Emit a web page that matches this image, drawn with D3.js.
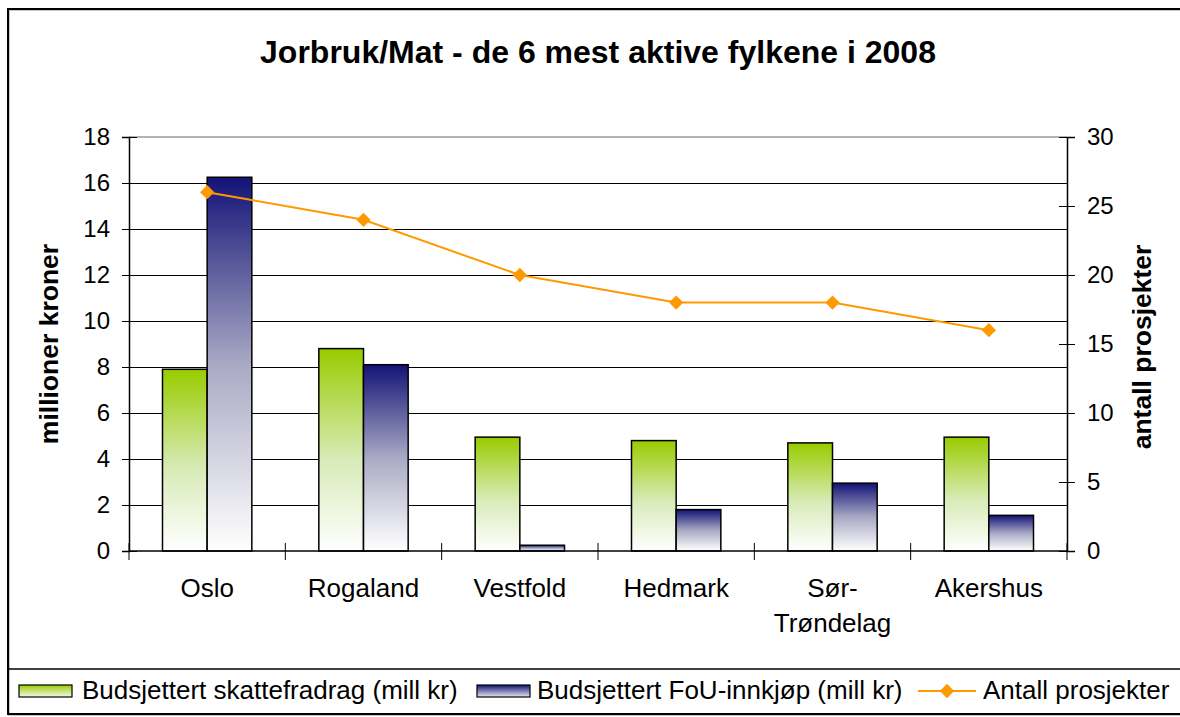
<!doctype html>
<html>
<head>
<meta charset="utf-8">
<title>Jorbruk/Mat</title>
<script src="https://cdn.jsdelivr.net/npm/d3@7"></script>
<style>
  body { margin: 0; background: #fff; }
  text { font-family: "Liberation Sans", Arial, sans-serif; fill: #000; }
</style>
</head>
<body>
<script>
// data
var fylker = ["Oslo", "Rogaland", "Vestfold", "Hedmark", "Sør-Trøndelag", "Akershus"];
var skattefradrag = [7.9, 8.8, 4.95, 4.8, 4.7, 4.95];
var fouInnkjop = [16.25, 8.1, 0.25, 1.8, 2.95, 1.55];
var antallProsjekter = [26, 24, 20, 18, 18, 16];
var leftTicks = [0, 2, 4, 6, 8, 10, 12, 14, 16, 18];
var rightTicks = [0, 5, 10, 15, 20, 25, 30];
var seriesNames = ["Budsjettert skattefradrag (mill kr)", "Budsjettert FoU-innkjøp (mill kr)", "Antall prosjekter"];

var W = 1180, H = 717;
var pLeft = 129, pRight = 1067, pTop = 137, pBottom = 551;

var svg = d3.select("body").append("svg").attr("width", W).attr("height", H);

var defs = svg.append("defs");
function grad(id, stops) {
  var g = defs.append("linearGradient").attr("id", id).attr("x1", 0).attr("y1", 0).attr("x2", 0).attr("y2", 1);
  stops.forEach(function (s) { g.append("stop").attr("offset", s[0]).attr("stop-color", s[1]); });
}
grad("gGreen", [["0%", "#99cc00"], ["55%", "#d8ebb8"], ["100%", "#ffffff"]]);
grad("gBlue", [["0%", "#131378"], ["50%", "#a9a9c4"], ["100%", "#ffffff"]]);
grad("gGreenL", [["0%", "#99cc00"], ["100%", "#f4f9ec"]]);
grad("gBlueL", [["0%", "#131378"], ["100%", "#e8e8f0"]]);

// outer frame
svg.append("rect").attr("x", 9).attr("y", 10).attr("width", W).attr("height", 705)
  .attr("fill", "none").attr("stroke", "#c8c8c8").attr("stroke-width", 2);
svg.append("rect").attr("x", 8).attr("y", 9).attr("width", W).attr("height", 705)
  .attr("fill", "none").attr("stroke", "#000").attr("stroke-width", 2);

var x = d3.scaleBand().domain(fylker).range([pLeft, pRight]).padding(0);
var xSub = d3.scaleBand().domain([0, 1]).range([0, x.bandwidth()]).paddingInner(0).paddingOuter(0.75);
var y = d3.scaleLinear().domain([0, 18]).range([pBottom, pTop]);
var y2 = d3.scaleLinear().domain([0, 30]).range([pBottom, pTop]);

// gridlines
svg.append("g").attr("transform", "translate(" + pLeft + ",0)")
  .call(d3.axisLeft(y).tickValues(leftTicks.slice(1, -1)).tickSize(-(pRight - pLeft)).tickFormat(""))
  .call(function (g) {
    g.select(".domain").remove();
    g.selectAll(".tick line").attr("stroke", "#000").attr("stroke-width", 1.2);
  });
svg.append("line").attr("x1", pLeft).attr("x2", pRight).attr("y1", pTop).attr("y2", pTop)
  .attr("stroke", "#999").attr("stroke-width", 1.5);

// bars
var bars = [skattefradrag, fouInnkjop];
var fills = ["url(#gGreen)", "url(#gBlue)"];
bars.forEach(function (vals, s) {
  svg.append("g").selectAll("rect").data(vals).enter().append("rect")
    .attr("x", function (d, i) { return x(fylker[i]) + xSub(s); })
    .attr("y", function (d) { return y(d); })
    .attr("width", xSub.bandwidth())
    .attr("height", function (d) { return y(0) - y(d); })
    .attr("fill", fills[s])
    .attr("stroke", "#000").attr("stroke-width", 1.5);
});

// axes
svg.append("g").attr("transform", "translate(" + pLeft + ",0)")
  .call(d3.axisLeft(y).tickValues(leftTicks).tickSize(7).tickPadding(12))
  .call(function (g) {
    g.select(".domain").attr("stroke", "#000").attr("stroke-width", 1.5);
    g.selectAll(".tick line").attr("x1", 8).attr("stroke", "#000");
    g.selectAll(".tick text").attr("font-size", 24).attr("font-family", "Liberation Sans, Arial, sans-serif");
  });
svg.append("g").attr("transform", "translate(" + pRight + ",0)")
  .call(d3.axisRight(y2).tickValues(rightTicks).tickSize(8).tickPadding(12))
  .call(function (g) {
    g.select(".domain").attr("stroke", "#000").attr("stroke-width", 1.5);
    g.selectAll(".tick line").attr("x1", -8).attr("stroke", "#000");
    g.selectAll(".tick text").attr("font-size", 24).attr("font-family", "Liberation Sans, Arial, sans-serif");
  });

// category axis
svg.append("line").attr("x1", pLeft).attr("x2", pRight).attr("y1", pBottom).attr("y2", pBottom)
  .attr("stroke", "#000").attr("stroke-width", 1.5);
var bounds = fylker.map(function (f) { return x(f); }).concat([pRight]);
svg.append("g").selectAll("line").data(bounds).enter().append("line")
  .attr("x1", function (d) { return d; }).attr("x2", function (d) { return d; })
  .attr("y1", pBottom - 8).attr("y2", pBottom + 9)
  .attr("stroke", "#000").attr("stroke-width", 1);
var catLabels = svg.append("g").selectAll("text").data(fylker).enter().append("text")
  .attr("text-anchor", "middle").attr("font-size", 26)
  .attr("transform", function (d) { return "translate(" + (x(d) + x.bandwidth() / 2) + ",597)"; });
catLabels.each(function (d) {
  var parts = d === "Sør-Trøndelag" ? ["Sør-", "Trøndelag"] : [d];
  var t = d3.select(this);
  parts.forEach(function (p, k) {
    t.append("tspan").attr("x", 0).attr("y", k * 35).text(p);
  });
});

// line series
var line = d3.line()
  .x(function (d, i) { return x(fylker[i]) + x.bandwidth() / 2; })
  .y(function (d) { return y2(d); });
svg.append("path").datum(antallProsjekter).attr("d", line)
  .attr("fill", "none").attr("stroke", "#ff9900").attr("stroke-width", 2);
var diamond = d3.symbol().type(d3.symbolDiamond2).size(130);
svg.append("g").selectAll("path").data(antallProsjekter).enter().append("path")
  .attr("d", diamond)
  .attr("transform", function (d, i) { return "translate(" + (x(fylker[i]) + x.bandwidth() / 2) + "," + y2(d) + ")"; })
  .attr("fill", "#ff9900");

// titles
svg.append("text").attr("x", 598).attr("y", 63).attr("text-anchor", "middle")
  .attr("font-size", 32).attr("font-weight", "bold")
  .text("Jorbruk/Mat - de 6 mest aktive fylkene i 2008");
svg.append("text").attr("transform", "translate(58,344) rotate(-90)").attr("text-anchor", "middle")
  .attr("font-size", 26.5).attr("font-weight", "bold").text("millioner kroner");
svg.append("text").attr("transform", "translate(1151,347) rotate(-90)").attr("text-anchor", "middle")
  .attr("font-size", 26.5).attr("font-weight", "bold").text("antall prosjekter");

// legend
svg.append("line").attr("x1", 8).attr("x2", W).attr("y1", 669).attr("y2", 669).attr("stroke", "#000").attr("stroke-width", 1.5);
var lg = svg.append("g");
lg.append("rect").attr("x", 19).attr("y", 685).attr("width", 53).attr("height", 12)
  .attr("fill", "url(#gGreenL)").attr("stroke", "#000").attr("stroke-width", 1.2);
lg.append("text").attr("x", 82).attr("y", 699).attr("font-size", 26).text(seriesNames[0]);
lg.append("rect").attr("x", 477).attr("y", 685).attr("width", 53).attr("height", 12)
  .attr("fill", "url(#gBlueL)").attr("stroke", "#000").attr("stroke-width", 1.2);
lg.append("text").attr("x", 537).attr("y", 699).attr("font-size", 26).text(seriesNames[1]);
lg.append("line").attr("x1", 918).attr("x2", 976).attr("y1", 691).attr("y2", 691)
  .attr("stroke", "#ff9900").attr("stroke-width", 2);
lg.append("path").attr("d", diamond).attr("transform", "translate(947,691)").attr("fill", "#ff9900");
lg.append("text").attr("x", 983).attr("y", 699).attr("font-size", 26).text(seriesNames[2]);
</script>
</body>
</html>
